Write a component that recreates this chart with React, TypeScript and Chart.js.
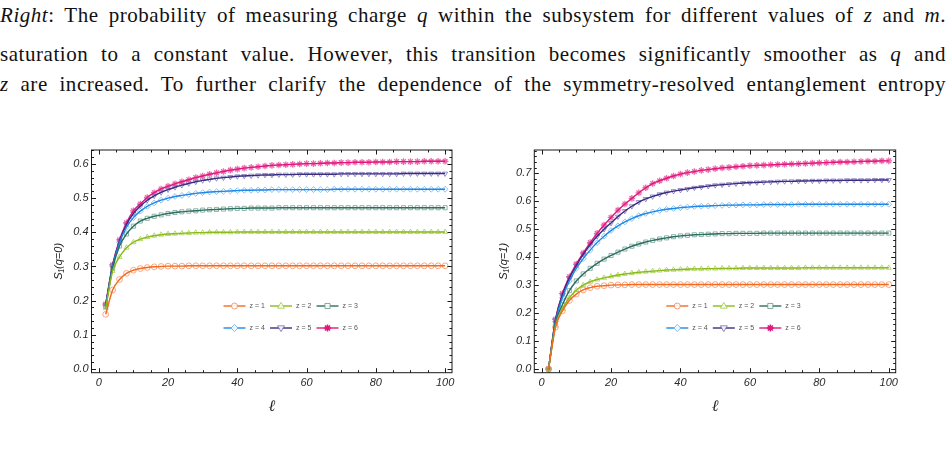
import React, { useEffect, useRef } from 'react';
import { Chart, registerables } from 'chart.js';

Chart.register(...registerables);

// subsystem size ℓ (markers every 2 sites)
const ELL = [2, 4, 6, 8, 10, 12, 14, 16, 18, 20, 22, 24, 26, 28, 30, 32, 34, 36, 38, 40,
  42, 44, 46, 48, 50, 52, 54, 56, 58, 60, 62, 64, 66, 68, 70, 72, 74, 76, 78, 80,
  82, 84, 86, 88, 90, 92, 94, 96, 98, 100];

const Z_LABELS = ['z = 1', 'z = 2', 'z = 3', 'z = 4', 'z = 5', 'z = 6'];

// Left panel: S1(q=0)
const Q0_Z1 = [0.160, 0.231, 0.262, 0.280, 0.289, 0.294, 0.297, 0.299, 0.300, 0.301,
  0.301, 0.301, 0.302, 0.302, 0.302, 0.302, 0.302, 0.302, 0.302, 0.302,
  0.302, 0.302, 0.302, 0.302, 0.302, 0.302, 0.302, 0.302, 0.302, 0.302,
  0.302, 0.302, 0.302, 0.302, 0.302, 0.302, 0.302, 0.302, 0.302, 0.302,
  0.302, 0.302, 0.302, 0.302, 0.302, 0.302, 0.302, 0.302, 0.302, 0.302];
const Q0_Z2 = [0.178, 0.287, 0.328, 0.355, 0.371, 0.380, 0.386, 0.390, 0.393, 0.395,
  0.396, 0.397, 0.398, 0.399, 0.399, 0.400, 0.400, 0.400, 0.400, 0.401,
  0.401, 0.401, 0.401, 0.401, 0.401, 0.401, 0.401, 0.401, 0.401, 0.401,
  0.401, 0.401, 0.401, 0.401, 0.401, 0.401, 0.401, 0.401, 0.401, 0.401,
  0.401, 0.401, 0.401, 0.401, 0.401, 0.401, 0.401, 0.401, 0.401, 0.401];
const Q0_Z3 = [0.183, 0.295, 0.360, 0.395, 0.418, 0.433, 0.441, 0.447, 0.451, 0.455,
  0.458, 0.460, 0.462, 0.463, 0.465, 0.466, 0.467, 0.468, 0.469, 0.470,
  0.470, 0.471, 0.471, 0.471, 0.471, 0.472, 0.472, 0.472, 0.472, 0.472,
  0.472, 0.472, 0.472, 0.472, 0.472, 0.472, 0.472, 0.472, 0.472, 0.472,
  0.472, 0.472, 0.472, 0.472, 0.472, 0.472, 0.472, 0.472, 0.472, 0.472];
const Q0_Z4 = [0.186, 0.300, 0.370, 0.415, 0.443, 0.462, 0.476, 0.486, 0.494, 0.500,
  0.505, 0.508, 0.511, 0.514, 0.516, 0.518, 0.519, 0.520, 0.521, 0.522,
  0.523, 0.523, 0.524, 0.524, 0.525, 0.525, 0.525, 0.525, 0.525, 0.525,
  0.525, 0.525, 0.525, 0.526, 0.526, 0.526, 0.526, 0.526, 0.526, 0.526,
  0.526, 0.526, 0.526, 0.526, 0.526, 0.526, 0.526, 0.526, 0.526, 0.526];
const Q0_Z5 = [0.188, 0.303, 0.375, 0.423, 0.455, 0.477, 0.494, 0.507, 0.517, 0.525,
  0.532, 0.538, 0.543, 0.548, 0.552, 0.555, 0.558, 0.560, 0.562, 0.564,
  0.565, 0.566, 0.567, 0.568, 0.568, 0.569, 0.569, 0.569, 0.570, 0.570,
  0.570, 0.570, 0.570, 0.570, 0.571, 0.571, 0.571, 0.571, 0.571, 0.571,
  0.571, 0.571, 0.571, 0.572, 0.572, 0.572, 0.572, 0.572, 0.572, 0.572];
const Q0_Z6 = [0.190, 0.305, 0.378, 0.428, 0.463, 0.483, 0.502, 0.516, 0.527, 0.535,
  0.542, 0.548, 0.554, 0.560, 0.565, 0.570, 0.574, 0.578, 0.582, 0.585,
  0.588, 0.590, 0.592, 0.594, 0.596, 0.597, 0.598, 0.599, 0.600, 0.601,
  0.601, 0.602, 0.603, 0.603, 0.604, 0.604, 0.605, 0.605, 0.605, 0.606,
  0.606, 0.606, 0.607, 0.607, 0.607, 0.607, 0.608, 0.608, 0.608, 0.608];

// Right panel: S1(q=1)
const Q1_Z1 = [0.000, 0.150, 0.208, 0.245, 0.268, 0.283, 0.291, 0.296, 0.298, 0.300,
  0.301, 0.301, 0.302, 0.302, 0.302, 0.302, 0.302, 0.302, 0.302, 0.302,
  0.302, 0.302, 0.302, 0.302, 0.302, 0.302, 0.302, 0.302, 0.302, 0.302,
  0.302, 0.302, 0.302, 0.302, 0.302, 0.302, 0.302, 0.302, 0.302, 0.302,
  0.302, 0.302, 0.302, 0.302, 0.302, 0.302, 0.302, 0.302, 0.302, 0.302];
const Q1_Z2 = [0.000, 0.155, 0.215, 0.255, 0.282, 0.300, 0.312, 0.320, 0.326, 0.331,
  0.336, 0.340, 0.343, 0.346, 0.348, 0.350, 0.352, 0.354, 0.355, 0.356,
  0.357, 0.358, 0.358, 0.359, 0.359, 0.360, 0.360, 0.360, 0.361, 0.361,
  0.361, 0.361, 0.361, 0.361, 0.361, 0.361, 0.361, 0.362, 0.362, 0.362,
  0.362, 0.362, 0.362, 0.362, 0.362, 0.362, 0.362, 0.362, 0.362, 0.362];
const Q1_Z3 = [0.000, 0.165, 0.230, 0.280, 0.315, 0.340, 0.360, 0.378, 0.393, 0.406,
  0.418, 0.429, 0.439, 0.447, 0.454, 0.460, 0.465, 0.469, 0.473, 0.476,
  0.478, 0.480, 0.481, 0.482, 0.483, 0.484, 0.484, 0.485, 0.485, 0.485,
  0.485, 0.486, 0.486, 0.486, 0.486, 0.486, 0.486, 0.486, 0.486, 0.486,
  0.486, 0.486, 0.486, 0.486, 0.486, 0.486, 0.486, 0.486, 0.486, 0.486];
const Q1_Z4 = [0.000, 0.170, 0.255, 0.315, 0.360, 0.395, 0.425, 0.452, 0.475, 0.495,
  0.512, 0.526, 0.538, 0.548, 0.556, 0.562, 0.567, 0.571, 0.574, 0.577,
  0.579, 0.581, 0.582, 0.583, 0.584, 0.585, 0.586, 0.586, 0.587, 0.587,
  0.587, 0.588, 0.588, 0.588, 0.588, 0.588, 0.589, 0.589, 0.589, 0.589,
  0.589, 0.589, 0.589, 0.589, 0.589, 0.589, 0.589, 0.589, 0.589, 0.589];
const Q1_Z5 = [0.000, 0.175, 0.265, 0.325, 0.370, 0.410, 0.445, 0.475, 0.500, 0.522,
  0.545, 0.565, 0.582, 0.597, 0.608, 0.617, 0.625, 0.631, 0.636, 0.640,
  0.644, 0.648, 0.651, 0.654, 0.657, 0.659, 0.661, 0.663, 0.665, 0.666,
  0.667, 0.668, 0.669, 0.670, 0.671, 0.671, 0.672, 0.672, 0.673, 0.673,
  0.674, 0.674, 0.674, 0.675, 0.675, 0.675, 0.675, 0.676, 0.676, 0.676];
const Q1_Z6 = [0.000, 0.178, 0.270, 0.330, 0.375, 0.415, 0.452, 0.485, 0.515, 0.542,
  0.568, 0.590, 0.610, 0.630, 0.648, 0.663, 0.673, 0.682, 0.690, 0.697,
  0.702, 0.706, 0.710, 0.713, 0.716, 0.719, 0.721, 0.723, 0.725, 0.727,
  0.728, 0.729, 0.730, 0.731, 0.732, 0.733, 0.734, 0.735, 0.736, 0.737,
  0.738, 0.739, 0.740, 0.740, 0.741, 0.742, 0.743, 0.743, 0.744, 0.744];

const LEFT_SERIES = [Q0_Z1, Q0_Z2, Q0_Z3, Q0_Z4, Q0_Z5, Q0_Z6];
const RIGHT_SERIES = [Q1_Z1, Q1_Z2, Q1_Z3, Q1_Z4, Q1_Z5, Q1_Z6];

const LINE_COLORS = ['#F46A1F', '#8BBA1B', '#2B6F60', '#1F88E6', '#3A2C7F', '#E0187C'];
const MARK_COLORS = ['rgba(246,140,90,0.85)', 'rgba(160,205,70,0.85)', 'rgba(100,150,135,0.8)',
  'rgba(100,175,240,0.85)', 'rgba(120,110,185,0.85)', 'rgba(235,80,160,0.85)'];
const MARK_LINE_COLORS = ['rgba(246,140,90,0.45)', 'rgba(160,205,70,0.45)', 'rgba(100,150,135,0.45)',
  'rgba(100,175,240,0.45)', 'rgba(120,110,185,0.45)', 'rgba(235,80,160,0.45)'];
const MARK_STYLES = ['circle', 'triangle', 'rect', 'rectRot', 'triangle', 'star'];
const MARK_ROT = [0, 0, 0, 0, 180, 0];

function drawMarker(ctx: CanvasRenderingContext2D, style: string, rot: number, x: number, y: number, r: number, color: string) {
  ctx.save();
  ctx.translate(x, y);
  ctx.rotate((rot * Math.PI) / 180);
  ctx.strokeStyle = color;
  ctx.fillStyle = 'rgba(255,255,255,0.9)';
  ctx.lineWidth = 1;
  ctx.beginPath();
  if (style === 'circle') {
    ctx.arc(0, 0, r, 0, Math.PI * 2);
    ctx.fill(); ctx.stroke();
  } else if (style === 'triangle') {
    const h = r * 1.2;
    ctx.moveTo(0, -h);
    ctx.lineTo(h * 0.95, h * 0.6);
    ctx.lineTo(-h * 0.95, h * 0.6);
    ctx.closePath();
    ctx.fill(); ctx.stroke();
  } else if (style === 'rect') {
    ctx.rect(-r * 0.85, -r * 0.85, r * 1.7, r * 1.7);
    ctx.fill(); ctx.stroke();
  } else if (style === 'rectRot') {
    ctx.moveTo(0, -r * 1.15); ctx.lineTo(r * 1.15, 0); ctx.lineTo(0, r * 1.15); ctx.lineTo(-r * 1.15, 0);
    ctx.closePath();
    ctx.fill(); ctx.stroke();
  } else {
    for (let i = 0; i < 4; i++) {
      const a = (i * Math.PI) / 4;
      ctx.moveTo(-Math.cos(a) * r * 1.2, -Math.sin(a) * r * 1.2);
      ctx.lineTo(Math.cos(a) * r * 1.2, Math.sin(a) * r * 1.2);
    }
    ctx.lineWidth = 1.6;
    ctx.stroke();
  }
  ctx.restore();
}

const frameTicksPlugin = {
  id: 'frameTicks',
  afterDatasetsDraw(chart: any, _args: any, opts: any) {
    const { ctx, chartArea: a, scales } = chart;
    const xs = scales.x, ys = scales.y;
    ctx.save();
    ctx.strokeStyle = '#1a1a1a';
    ctx.lineWidth = 1;
    ctx.strokeRect(a.left, a.top, a.right - a.left, a.bottom - a.top);
    ctx.beginPath();
    const xMin = xs.min, xMax = xs.max;
    for (let k = Math.ceil(xMin / opts.xMinor); k * opts.xMinor <= xMax + 1e-9; k++) {
      const v = k * opts.xMinor;
      const major = Math.abs(v / opts.xMajor - Math.round(v / opts.xMajor)) < 1e-6;
      const len = major ? 4.5 : 2.5;
      const px = Math.round(xs.getPixelForValue(v)) + 0.5;
      ctx.moveTo(px, a.bottom); ctx.lineTo(px, a.bottom - len);
      ctx.moveTo(px, a.top); ctx.lineTo(px, a.top + len);
    }
    const yMin = ys.min, yMax = ys.max;
    for (let k = Math.ceil(yMin / opts.yMinor - 1e-6); k * opts.yMinor <= yMax + 1e-9; k++) {
      const v = k * opts.yMinor;
      const major = Math.abs(v / opts.yMajor - Math.round(v / opts.yMajor)) < 1e-6;
      const len = major ? 4.5 : 2.5;
      const py = Math.round(ys.getPixelForValue(v)) + 0.5;
      ctx.moveTo(a.left, py); ctx.lineTo(a.left + len, py);
      ctx.moveTo(a.right, py); ctx.lineTo(a.right - len, py);
    }
    ctx.stroke();
    ctx.restore();
  },
};

const zLegendPlugin = {
  id: 'zLegend',
  afterDatasetsDraw(chart: any, _args: any, opts: any) {
    const { ctx, chartArea: a } = chart;
    ctx.save();
    Z_LABELS.forEach((label, i) => {
      const col = i % 3, row = Math.floor(i / 3);
      const x0 = a.left + opts.dx + col * opts.colW;
      const y0 = a.top + opts.dy + row * opts.rowH;
      ctx.strokeStyle = LINE_COLORS[i];
      ctx.lineWidth = 1.4;
      ctx.beginPath();
      ctx.moveTo(x0, y0); ctx.lineTo(x0 + 22, y0);
      ctx.stroke();
      drawMarker(ctx, MARK_STYLES[i], MARK_ROT[i], x0 + 11, y0, 3, i === 5 ? LINE_COLORS[i] : MARK_COLORS[i]);
      ctx.fillStyle = '#555';
      ctx.font = '7px "Liberation Sans", Arial, sans-serif';
      ctx.textBaseline = 'middle';
      ctx.textAlign = 'left';
      ctx.fillText(label, x0 + 26, y0 + 0.5);
    });
    ctx.restore();
  },
};

type PanelCfg = {
  series: number[][];
  yMax: number;
  yMin: number;
  yTitle: string;
  areaLeft: number;
  padRight: number;
  yTitlePad: number;
};

function buildChart(canvas: HTMLCanvasElement, cfg: PanelCfg) {
  const datasets: any[] = [];
  cfg.series.forEach((vals, i) => {
    const pts = ELL.map((l, j) => ({ x: l, y: vals[j] }));
    datasets.push({
      label: Z_LABELS[i] + ' line',
      data: pts,
      borderColor: LINE_COLORS[i],
      borderWidth: 1.4,
      pointRadius: 0,
      cubicInterpolationMode: 'monotone',
      fill: false,
      order: 0,
    });
    datasets.push({
      label: Z_LABELS[i],
      data: pts,
      showLine: true,
      borderColor: MARK_LINE_COLORS[i],
      borderWidth: 0.8,
      pointStyle: MARK_STYLES[i],
      pointRotation: MARK_ROT[i],
      pointRadius: i === 5 ? 3.3 : 2.9,
      pointBorderWidth: i === 5 ? 1.3 : 0.9,
      pointBorderColor: MARK_COLORS[i],
      pointBackgroundColor: 'rgba(255,255,255,0)',
      fill: false,
      order: 1,
    });
  });

  const tickFont = { family: '"Liberation Sans", Arial, sans-serif', style: 'italic' as const, size: 11 };

  return new Chart(canvas, {
    type: 'line',
    data: { datasets },
    plugins: [frameTicksPlugin, zLegendPlugin],
    options: {
      responsive: false,
      animation: false,
      events: [],
      layout: { padding: { left: 0, top: 10, right: cfg.padRight, bottom: 0 } },
      plugins: {
        legend: { display: false },
        tooltip: { enabled: false },
        frameTicks: { xMajor: 20, xMinor: 5, yMajor: 0.1, yMinor: 0.02 },
        zLegend: { dx: 132, dy: 156, colW: 46.5, rowH: 22 },
      } as any,
      scales: {
        x: {
          type: 'linear',
          min: -2.1,
          max: 102,
          afterFit: (s: any) => { s.height = 57.3; },
          grid: { display: false, drawTicks: false },
          border: { display: false },
          ticks: {
            stepSize: 20,
            includeBounds: false,
            autoSkip: false,
            maxRotation: 0,
            padding: 4,
            color: '#2a2a2a',
            font: tickFont,
          },
          title: {
            display: true,
            text: 'ℓ',
            color: '#222',
            font: { family: '"DejaVu Serif", serif', style: 'italic', size: 16 },
            padding: { top: 0, bottom: 14 },
          },
        },
        y: {
          type: 'linear',
          min: cfg.yMin,
          max: cfg.yMax,
          afterFit: (s: any) => { s.width = cfg.areaLeft; },
          grid: { display: false, drawTicks: false },
          border: { display: false },
          ticks: {
            stepSize: 0.1,
            includeBounds: false,
            padding: 3,
            color: '#2a2a2a',
            font: tickFont,
            callback: (v: any) => Number(v).toFixed(1),
          },
          title: {
            display: true,
            text: cfg.yTitle,
            color: '#222',
            font: { family: '"Liberation Sans", Arial, sans-serif', style: 'italic', size: 11 },
            padding: { top: cfg.yTitlePad, bottom: 0 },
          },
        },
      },
    } as any,
  });
}

function Panel(props: { cfg: PanelCfg; left: number }) {
  const ref = useRef<HTMLCanvasElement | null>(null);
  useEffect(() => {
    if (!ref.current) return;
    const chart = buildChart(ref.current, props.cfg);
    return () => chart.destroy();
  }, []);
  return (
    <canvas
      ref={ref}
      width={425}
      height={290}
      style={{ position: 'absolute', left: props.left, top: 140, width: 425, height: 290 }}
    />
  );
}

const LEFT_CFG: PanelCfg = {
  series: LEFT_SERIES,
  yMin: -0.011,
  yMax: 0.641,
  yTitle: 'S₁(q=0)',
  areaLeft: 51.5,
  padRight: 13,
  yTitlePad: 12.4,
};
const RIGHT_CFG: PanelCfg = {
  series: RIGHT_SERIES,
  yMin: -0.013,
  yMax: 0.783,
  yTitle: 'S₁(q=1)',
  areaLeft: 44.3,
  padRight: 19.3,
  yTitlePad: 7.4,
};

const textStyle: React.CSSProperties = {
  position: 'absolute',
  left: 0,
  width: 946,
  fontFamily: '"Liberation Serif", "Times New Roman", serif',
  fontSize: 21,
  letterSpacing: '0.55px',
  lineHeight: '22px',
  color: '#111',
  textAlign: 'justify',
  textAlignLast: 'justify' as any,
  margin: 0,
};

export default function App() {
  return (
    <div style={{ position: 'absolute', left: 0, top: 0, width: 951, height: 474, background: '#fff', overflow: 'hidden' }}>
      <div style={{ ...textStyle, top: 4 }}>
        <i>Right</i>: The probability of measuring charge <i>q</i> within the subsystem for different values of <i>z</i> and <i>m</i>.
      </div>
      <div style={{ ...textStyle, top: 43 }}>
        saturation to a constant value. However, this transition becomes significantly smoother as <i>q</i> and
      </div>
      <div style={{ ...textStyle, top: 73 }}>
        <i>z</i> are increased. To further clarify the dependence of the symmetry-resolved entanglement entropy
      </div>
      <Panel cfg={LEFT_CFG} left={40} />
      <Panel cfg={RIGHT_CFG} left={490} />
    </div>
  );
}
